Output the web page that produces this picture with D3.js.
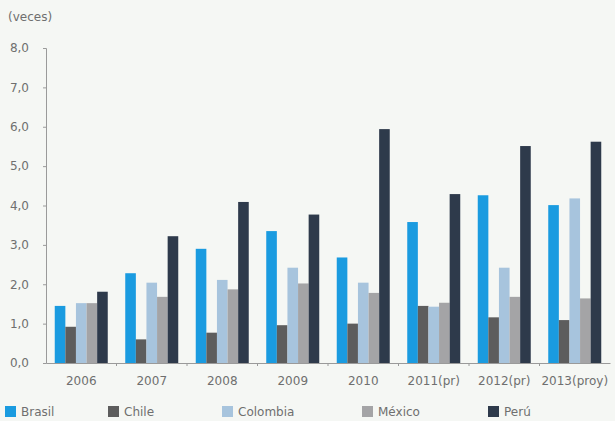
<!DOCTYPE html>
<html><head><meta charset="utf-8">
<script src="https://cdn.jsdelivr.net/npm/d3@7"></script>
<style>body{margin:0;background:#f5f7f4;}svg{display:block;}</style>
</head><body>
<svg id="c" width="615" height="421"></svg>
<script>
const categories = ["2006","2007","2008","2009","2010","2011(pr)","2012(pr)","2013(proy)"];
const seriesNames = ["Brasil","Chile","Colombia","México","Perú"];
const brasil   = [1.45, 2.28, 2.90, 3.35, 2.68, 3.58, 4.26, 4.01];
const chile    = [0.92, 0.60, 0.77, 0.96, 1.00, 1.45, 1.16, 1.09];
const colombia = [1.52, 2.04, 2.11, 2.42, 2.04, 1.43, 2.42, 4.18];
const mexico   = [1.52, 1.68, 1.87, 2.02, 1.78, 1.53, 1.68, 1.64];
const peru     = [1.81, 3.22, 4.09, 3.77, 5.94, 4.29, 5.51, 5.62];
const yTicks = [0,1,2,3,4,5,6,7,8];
const colors = ["#1a9be0","#5d5d5d","#a7c4dd","#a4a4a6","#2e3a4b"];

const FONT = "DejaVu Sans, Verdana, sans-serif";
const TXT = "#6f6f6f";
const series = [brasil, chile, colombia, mexico, peru];
const svg = d3.select("#c");
svg.append("rect").attr("width",615).attr("height",421).attr("fill","#f5f7f4");

const x0 = d3.scaleBand().domain(categories).range([46, 610]).paddingInner(0).paddingOuter(0);
const x1 = d3.scaleBand().domain(seriesNames).range([0, 53]);
const y = d3.scaleLinear().domain([0, 8]).range([363, 48]);

const fmt = d => d3.format(".1f")(d).replace(".", ",");

// y axis
const ya = svg.append("g").attr("transform","translate(46,0)")
  .call(d3.axisLeft(y).tickValues(yTicks).tickFormat(fmt).tickSize(3).tickPadding(14));
ya.select(".domain").attr("stroke","#9a9a9a");
ya.selectAll(".tick line").attr("stroke","#9a9a9a");
ya.selectAll(".tick text").attr("fill",TXT).style("font-family",FONT).style("font-size","12px");

// bars
categories.forEach((c, i) => {
  const g = svg.append("g").attr("transform", `translate(${x0(c) + (x0.bandwidth()-53)/2},0)`);
  seriesNames.forEach((s, j) => {
    g.append("rect")
      .attr("x", x1(s))
      .attr("width", x1.bandwidth())
      .attr("y", y(series[j][i]))
      .attr("height", y(0) - y(series[j][i]))
      .attr("fill", colors[j]);
  });
});

// x axis
const xa = svg.append("g").attr("transform","translate(0,363)")
  .call(d3.axisBottom(x0).tickSize(0).tickPadding(13));
xa.select(".domain").attr("stroke","#9a9a9a");
xa.selectAll(".tick text").attr("fill",TXT).style("font-family",FONT).style("font-size","12px");
// separators between groups
svg.append("g").selectAll("line").data(categories.slice(1)).join("line")
  .attr("x1", d => x0(d)).attr("x2", d => x0(d))
  .attr("y1", 363).attr("y2", 366).attr("stroke","#9a9a9a");

// unit label
svg.append("text").attr("x",8).attr("y",21).text("(veces)")
  .attr("fill",TXT).style("font-family",FONT).style("font-size","12px");

// legend
const legX = [5, 108, 222, 362, 488];
seriesNames.forEach((s, j) => {
  svg.append("rect").attr("x", legX[j]).attr("y", 406).attr("width", 11).attr("height", 11).attr("fill", colors[j]);
  svg.append("text").attr("x", legX[j] + 16).attr("y", 416).text(s)
    .attr("fill",TXT).style("font-family",FONT).style("font-size","12px");
});
</script>
</body></html>
